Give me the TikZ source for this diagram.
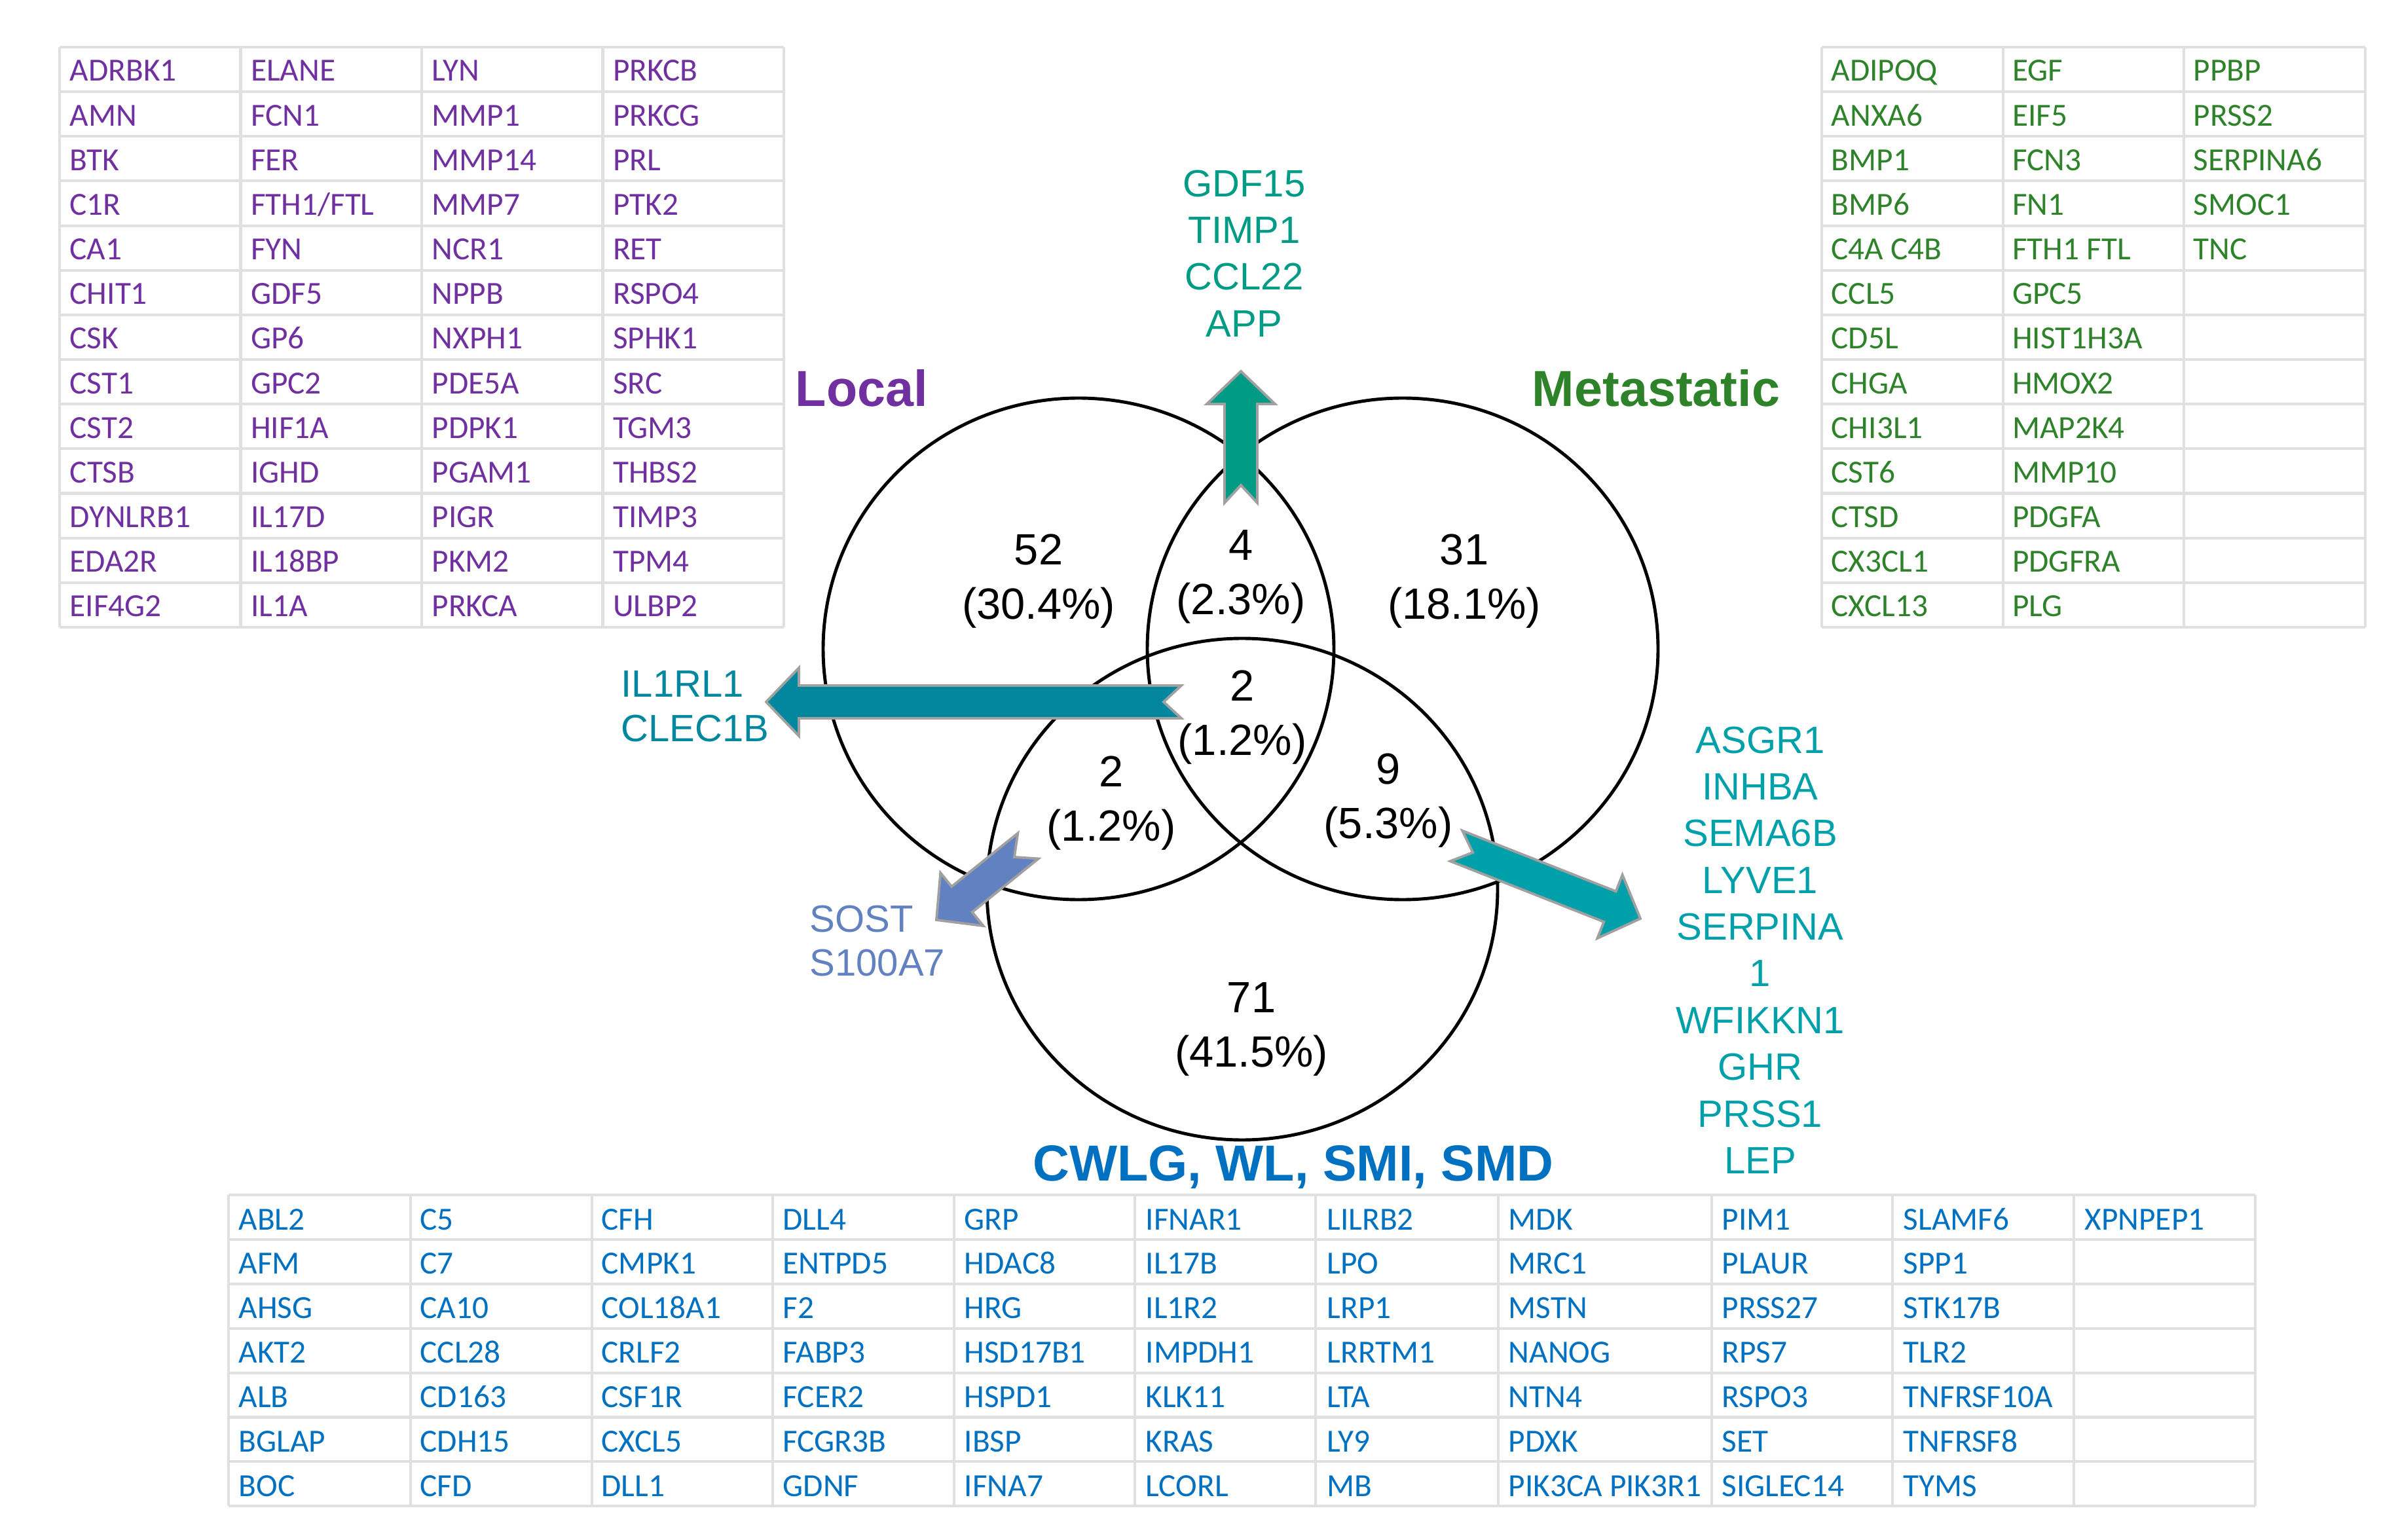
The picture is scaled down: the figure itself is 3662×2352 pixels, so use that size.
\documentclass[tikz,border=0pt]{standalone}
\usepackage{fontspec}
\setmainfont{Liberation Sans}
\newfontfamily\cellfont{Carlito}
\usepackage{tikz}
\usetikzlibrary{calc}
\definecolor{localpurple}{HTML}{7030A0}
\definecolor{metagreen}{HTML}{2E822A}
\definecolor{cwlgblue}{HTML}{0070C0}
\definecolor{upgreen}{HTML}{009B84}
\definecolor{leftteal}{HTML}{02879F}
\definecolor{rightteal}{HTML}{00A0AA}
\definecolor{sostblue}{HTML}{6281C1}
\definecolor{rimgray}{HTML}{A0A0A0}
\definecolor{cellgray}{HTML}{E0E0E0}
% notched block arrow from tail to tip
\tikzset{fat arrow/.style={draw=rimgray, line width=1.1pt, line join=miter, fill=#1,
  to path={
  ($(\tikztostart)!0.25cm!90:(\tikztotarget)$)
  -- ($(\tikztostart)!0.27cm!(\tikztotarget)$)
  -- ($(\tikztostart)!0.25cm!-90:(\tikztotarget)$)
  -- ($($(\tikztotarget)!0.5cm!(\tikztostart)$)!0.25cm!-90:(\tikztotarget)$)
  -- ($($(\tikztotarget)!0.5cm!(\tikztostart)$)!0.52cm!-90:(\tikztotarget)$)
  -- (\tikztotarget)
  -- ($($(\tikztotarget)!0.5cm!(\tikztostart)$)!0.52cm!90:(\tikztotarget)$)
  -- ($($(\tikztotarget)!0.5cm!(\tikztostart)$)!0.25cm!90:(\tikztotarget)$)
  -- cycle}}}

\begin{document}
\begin{tikzpicture}[x=0.01cm,y=-0.01cm,
  venn/.style={line width=1.4pt},
  tally/.style={align=center, font=\fontsize{19}{23.6}\selectfont},
  genes/.style={align=center, inner sep=0pt, text=#1, font=\fontsize{16.5}{20.3}\selectfont},
  setlabel/.style={text=#1, font=\bfseries\fontsize{22}{26}\selectfont},
  cell/.style={anchor=base west, inner sep=0pt, text=#1, font=\cellfont\fontsize{14}{17}\selectfont},
  gridline/.style={draw=cellgray, line width=1.15pt}]
\useasboundingbox (0,0) rectangle (3662,2352);

% the three sets
\coordinate (local) at (1647,991);
\coordinate (meta) at (2142,991);
\coordinate (cwlg) at (1897,1358);
\foreach \c in {local,meta,cwlg}
  \draw[venn] (\c) ellipse [x radius=390, y radius=383];

\node[setlabel=localpurple] (loclab) at (1316,593) {Local};
\node[setlabel=metagreen] (metalab) at (2529,593) {Metastatic};
\node[setlabel=cwlgblue] (cwlglab) at (1975,1782) {CWLG, WL, SMI, SMD};

\node[tally] (n52) at (1586,888) {52\\(30.4\%)};
\node[tally] (n4) at (1895,881) {4\\(2.3\%)};
\node[tally] (n31) at (2236,888) {31\\(18.1\%)};
\node[tally] (n2c) at (1897,1096) {2\\(1.2\%)};
\node[tally] (n2l) at (1697,1227) {2\\(1.2\%)};
\node[tally] (n9) at (2120,1223) {9\\(5.3\%)};
\node[tally] (n71) at (1911,1572) {71\\(41.5\%)};

% shared genes
\node[genes=upgreen] (upgenes) at (1900,387) {GDF15\\TIMP1\\CCL22\\APP};
\node[genes=leftteal, align=left, anchor=west, font=\fontsize{16.5}{19.2}\selectfont] (leftgenes) at (948,1079) {IL1RL1\\CLEC1B};
\node[genes=sostblue, align=left, anchor=west, font=\fontsize{16.5}{19.2}\selectfont] (sostgenes) at (1236,1437) {SOST\\S100A7};
\node[genes=rightteal] (rightgenes) at (2688,1451) {ASGR1\\INHBA\\SEMA6B\\LYVE1\\SERPINA\\1\\WFIKKN1\\GHR\\PRSS1\\LEP};

\coordinate (upT) at (1895,768);   \coordinate (upH) at (1895,567);
\coordinate (leftT) at (1804,1072); \coordinate (leftH) at (1170,1072);
\coordinate (sostT) at (1570,1292); \coordinate (sostH) at (1430,1405);
\coordinate (rightT) at (2224,1292); \coordinate (rightH) at (2505,1403);
\draw[fat arrow=upgreen] (upT) to (upH);
\draw[fat arrow=leftteal] (leftT) to (leftH);
\draw[fat arrow=sostblue] (sostT) to (sostH);
\draw[fat arrow=rightteal] (rightT) to (rightH);

% Local table
\foreach \k in {0,...,4} \draw[gridline] ({91+276.5*\k},72) -- ({91+276.5*\k},958);
\foreach \k in {0,...,13} \draw[gridline] (91,{72+68.15*\k}) -- (1197,{72+68.15*\k});
\foreach \col [count=\j from 0] in {
  {ADRBK1,AMN,BTK,C1R,CA1,CHIT1,CSK,CST1,CST2,CTSB,DYNLRB1,EDA2R,EIF4G2},
  {ELANE,FCN1,FER,FTH1{/}FTL,FYN,GDF5,GP6,GPC2,HIF1A,IGHD,IL17D,IL18BP,IL1A},
  {LYN,MMP1,MMP14,MMP7,NCR1,NPPB,NXPH1,PDE5A,PDPK1,PGAM1,PIGR,PKM2,PRKCA},
  {PRKCB,PRKCG,PRL,PTK2,RET,RSPO4,SPHK1,SRC,TGM3,THBS2,TIMP3,TPM4,ULBP2}}
  \foreach \g [count=\i from 0] in \col
    \node[cell=localpurple] (loc-\j-\i) at ({106+276.5*\j},{124+68.15*\i}) {\g};

% Metastatic table
\foreach \k in {0,...,3} \draw[gridline] ({2782+276.5*\k},72) -- ({2782+276.5*\k},958);
\foreach \k in {0,...,13} \draw[gridline] (2782,{72+68.15*\k}) -- (3611.5,{72+68.15*\k});
\foreach \col [count=\j from 0] in {
  {ADIPOQ,ANXA6,BMP1,BMP6,C4A C4B,CCL5,CD5L,CHGA,CHI3L1,CST6,CTSD,CX3CL1,CXCL13},
  {EGF,EIF5,FCN3,FN1,FTH1 FTL,GPC5,HIST1H3A,HMOX2,MAP2K4,MMP10,PDGFA,PDGFRA,PLG},
  {PPBP,PRSS2,SERPINA6,SMOC1,TNC}}
  \foreach \g [count=\i from 0] in \col
    \node[cell=metagreen] (met-\j-\i) at ({2796+276.5*\j},{124+68.15*\i}) {\g};

% CWLG, WL, SMI, SMD table
\foreach \x in {349,627,904,1180,1457,1733,2009,2288,2614,2890,3167,3444}
  \draw[gridline] (\x,1825) -- (\x,2300);
\foreach \k in {0,...,7} \draw[gridline] (349,{1825+67.9*\k}) -- (3444,{1825+67.9*\k});
\foreach \col [count=\j from 0] in {
  {ABL2,AFM,AHSG,AKT2,ALB,BGLAP,BOC},
  {C5,C7,CA10,CCL28,CD163,CDH15,CFD},
  {CFH,CMPK1,COL18A1,CRLF2,CSF1R,CXCL5,DLL1},
  {DLL4,ENTPD5,F2,FABP3,FCER2,FCGR3B,GDNF},
  {GRP,HDAC8,HRG,HSD17B1,HSPD1,IBSP,IFNA7},
  {IFNAR1,IL17B,IL1R2,IMPDH1,KLK11,KRAS,LCORL},
  {LILRB2,LPO,LRP1,LRRTM1,LTA,LY9,MB},
  {MDK,MRC1,MSTN,NANOG,NTN4,PDXK,PIK3CA PIK3R1},
  {PIM1,PLAUR,PRSS27,RPS7,RSPO3,SET,SIGLEC14},
  {SLAMF6,SPP1,STK17B,TLR2,TNFRSF10A,TNFRSF8,TYMS},
  {XPNPEP1}}
  \foreach \g [count=\i from 0] in \col
    \node[cell=cwlgblue] (cw-\j-\i) at ({364+277*\j+49*(\j>7)},{1878+67.9*\i}) {\g};
\end{tikzpicture}
\end{document}
